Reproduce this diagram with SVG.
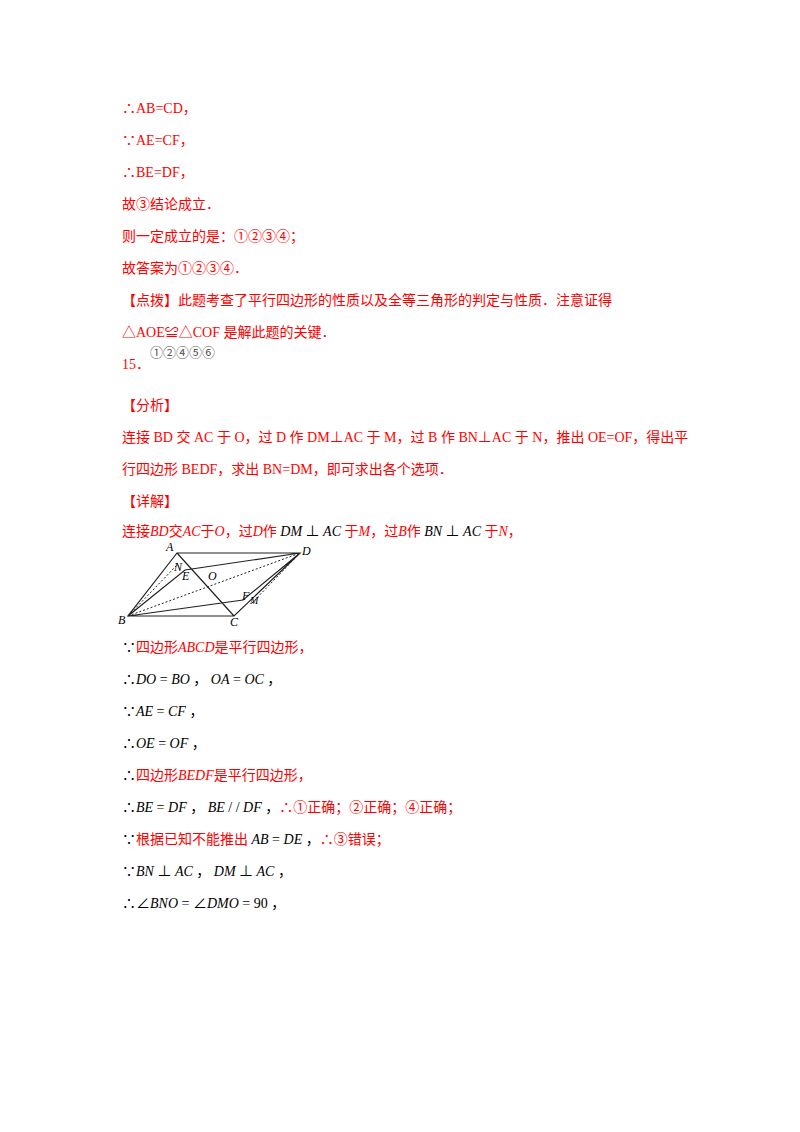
<svg xmlns="http://www.w3.org/2000/svg" width="800" height="1132" viewBox="0 0 800 1132">
<style>
text{font-family:"Liberation Serif","Noto Sans CJK SC",serif;font-size:14px}
.r{fill:#f00}.k{fill:#000}.i{font-style:italic}.g{fill:#555;font-size:13px}
.l{stroke:#222;stroke-width:1.2;fill:none}.d{stroke:#222;stroke-width:1;stroke-dasharray:2 2;fill:none}
.f{font-size:12px;font-style:italic;fill:#000}
</style>
<rect width="800" height="1132" fill="#fff"/>
<g id="text1" class="r">
<text x="122" y="113">∴AB=CD，</text>
<text x="122" y="145">∵AE=CF，</text>
<text x="122" y="177">∴BE=DF，</text>
<text x="122" y="209">故③结论成立．</text>
<text x="122" y="241">则一定成立的是：①②③④；</text>
<text x="122" y="273">故答案为①②③④．</text>
<text x="122" y="305">【点拨】此题考查了平行四边形的性质以及全等三角形的判定与性质．注意证得</text>
<text x="122" y="337">△AOE≌△COF 是解此题的关键．</text>
<text x="122" y="369">15．</text>
<text x="150" y="357" class="g">①②④⑤⑥</text>
<text x="122" y="410">【分析】</text>
<text x="122" y="442">连接 BD 交 AC 于 O，过 D 作 DM⊥AC 于 M，过 B 作 BN⊥AC 于 N，推出 OE=OF，得出平</text>
<text x="122" y="474">行四边形 BEDF，求出 BN=DM，即可求出各个选项．</text>
<text x="122" y="506">【详解】</text>
<text x="122" y="536">连接<tspan class="i">BD</tspan>交<tspan class="i">AC</tspan>于<tspan class="i">O</tspan>，过<tspan class="i">D</tspan>作 <tspan class="k i">DM</tspan><tspan class="k"> ⊥ </tspan><tspan class="k i">AC</tspan> 于<tspan class="i">M</tspan>，过<tspan class="i">B</tspan>作 <tspan class="k i">BN</tspan><tspan class="k"> ⊥ </tspan><tspan class="k i">AC</tspan> 于<tspan class="i">N</tspan>，</text>
</g>
<g id="figure">
<path class="l" d="M177 553H300L234 616H128Z M177 553L234 616 M128 616L185 570L300 553 M128 616L243 600L300 553"/>
<path class="d" d="M128 616L300 553 M128 616L177 565 M300 553L252 603"/>
<text x="166" y="551" class="f">A</text>
<text x="302" y="555" class="f">D</text>
<text x="118" y="624" class="f">B</text>
<text x="230" y="626" class="f">C</text>
<text x="174" y="571" class="f">N</text>
<text x="182" y="580" class="f">E</text>
<text x="208" y="580" class="f">O</text>
<text x="242" y="600" class="f">F</text>
<text x="250" y="604" class="f" style="font-size:10px">M</text>
</g>
<g id="text2" class="k">
<text x="122" y="652">∵<tspan class="r">四边形<tspan class="i">ABCD</tspan>是平行四边形，</tspan></text>
<text x="122" y="684">∴<tspan class="i">DO</tspan> = <tspan class="i">BO</tspan> ，  <tspan class="i">OA</tspan> = <tspan class="i">OC</tspan> ，</text>
<text x="122" y="716">∵<tspan class="i">AE</tspan> = <tspan class="i">CF</tspan> ，</text>
<text x="122" y="748">∴<tspan class="i">OE</tspan> = <tspan class="i">OF</tspan> ，</text>
<text x="122" y="780">∴<tspan class="r">四边形<tspan class="i">BEDF</tspan>是平行四边形，</tspan></text>
<text x="122" y="812">∴<tspan class="i">BE</tspan> = <tspan class="i">DF</tspan> ，  <tspan class="i">BE</tspan> / / <tspan class="i">DF</tspan> ，<tspan class="r">∴①正确；②正确；④正确；</tspan></text>
<text x="122" y="844">∵<tspan class="r">根据已知不能推出</tspan> <tspan class="i">AB</tspan> = <tspan class="i">DE</tspan> ，<tspan class="r">∴③错误；</tspan></text>
<text x="122" y="876">∵<tspan class="i">BN</tspan> ⊥ <tspan class="i">AC</tspan> ，  <tspan class="i">DM</tspan> ⊥ <tspan class="i">AC</tspan> ，</text>
<text x="122" y="908">∴∠<tspan class="i">BNO</tspan> = ∠<tspan class="i">DMO</tspan> = 90 ，</text>
</g>
</svg>
